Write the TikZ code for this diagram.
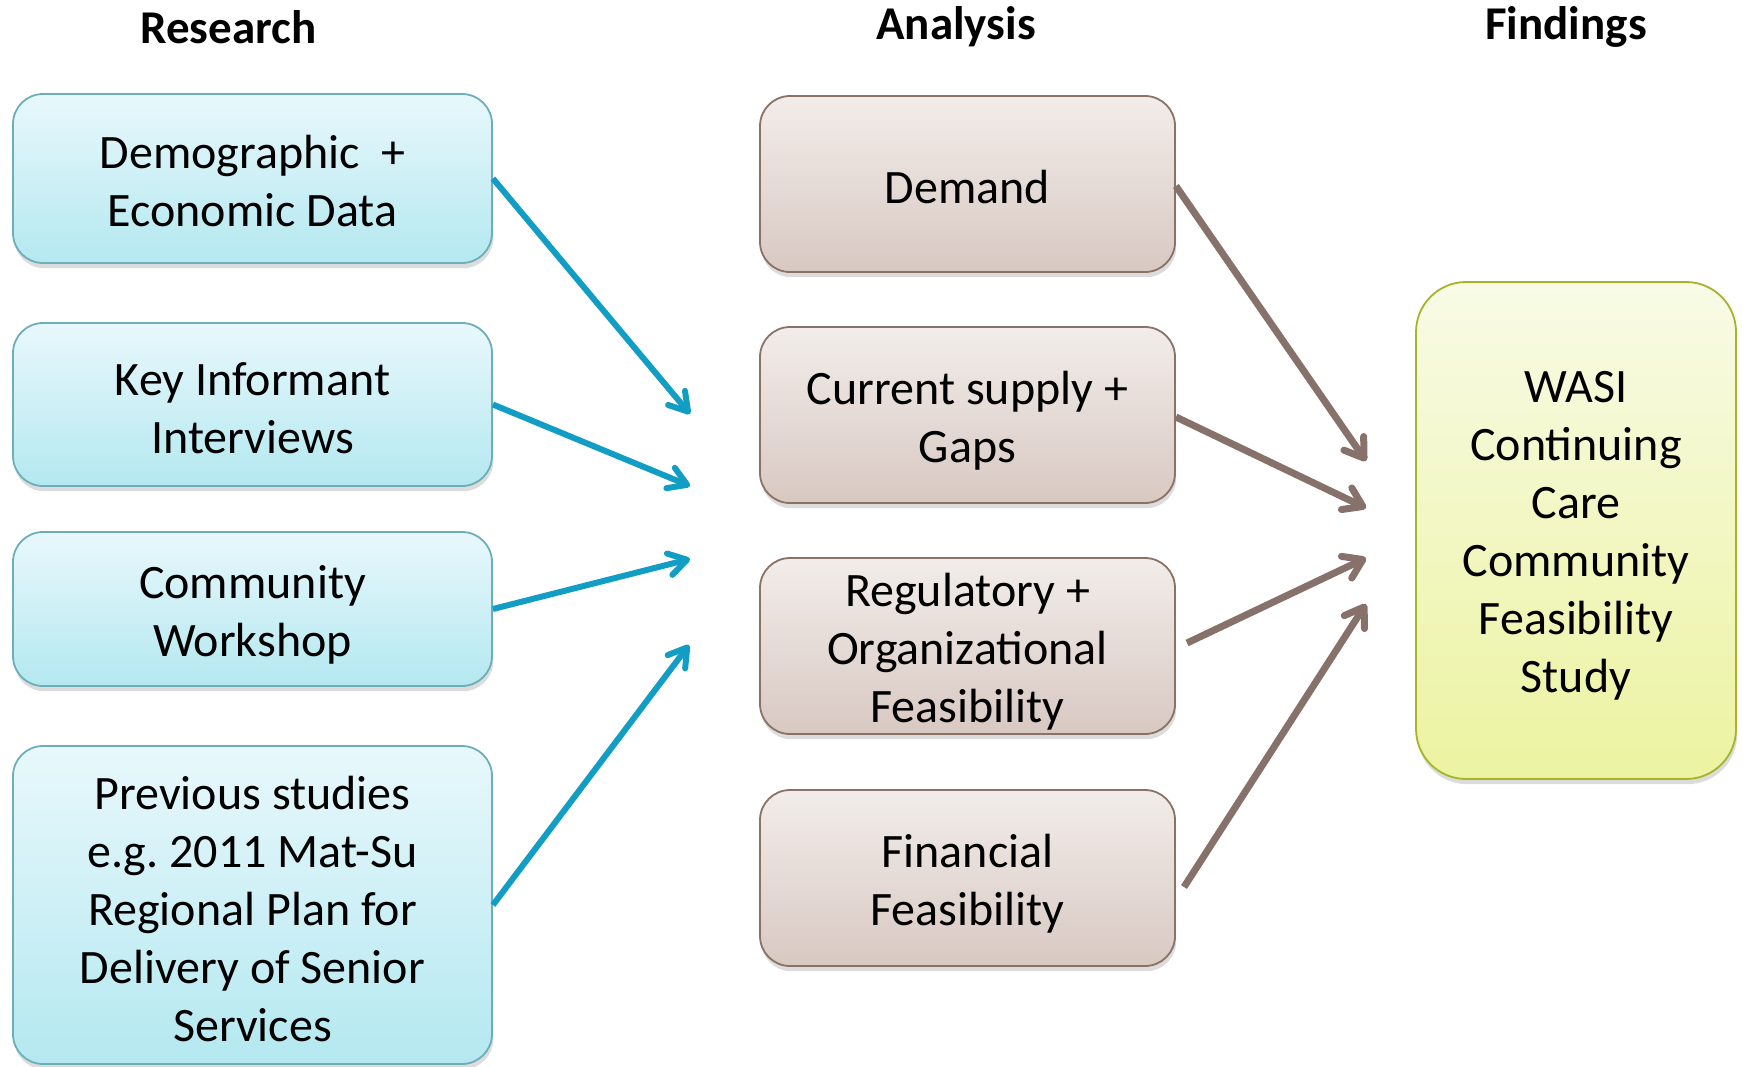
\documentclass[tikz,border=0pt]{standalone}
\usepackage{fontspec}
\setmainfont{Carlito}
\usetikzlibrary{arrows.meta,shadows}
\definecolor{bluetop}{HTML}{E8F8FC}
\definecolor{bluebot}{HTML}{B4E8F0}
\definecolor{blueborder}{HTML}{6DAFB9}
\definecolor{browntop}{HTML}{F2EDEA}
\definecolor{brownbot}{HTML}{D8C8C2}
\definecolor{brownborder}{HTML}{8A7266}
\definecolor{greentop}{HTML}{F8FBE6}
\definecolor{greenbot}{HTML}{ECF3A0}
\definecolor{greenborder}{HTML}{A6B42A}
\definecolor{bluearrow}{HTML}{129EC4}
\definecolor{brownarrow}{HTML}{86726A}
\tikzset{
  boxbase/.style={rounded corners=15pt, line width=0.9pt, inner sep=0pt,
    drop shadow={opacity=0.28, shadow xshift=0.6pt, shadow yshift=-2.6pt}},
  research/.style={boxbase, draw=blueborder, top color=bluetop, bottom color=bluebot,
    minimum width=239.5pt},
  analysis/.style={boxbase, draw=brownborder, top color=browntop, bottom color=brownbot,
    minimum width=207.5pt, minimum height=88pt},
  finding/.style={boxbase, rounded corners=25pt, draw=greenborder, top color=greentop,
    bottom color=greenbot, minimum width=160pt, minimum height=248.5pt},
  boxtext/.style={align=center, font=\fontsize{24}{29}\selectfont, inner sep=0pt},
  coltitle/.style={font=\fontsize{23.5}{28}\selectfont\bfseries, inner sep=0pt},
  bluearr/.style={draw=bluearrow, line width=3pt,
    -{Straight Barb[length=9pt, width=11pt, round]}},
  brownarr/.style={draw=brownarrow, line width=3.5pt,
    -{Straight Barb[length=9pt, width=12pt, round]}}
}
\begin{document}
\begin{tikzpicture}[x=0.5pt, y=-0.5pt]
\useasboundingbox (0,0) rectangle (1743,1066);
% titles
\node[coltitle] (t1) at (228.5,27) {Research};
\node[coltitle] (t2) at (956,27) {Analysis};
\node[coltitle] (t3) at (1566,27) {Findings};
% research boxes
\node[research, minimum height=84.5pt] (demo) at (252.5,178.5) {};
\node[research, minimum height=81.5pt] (key) at (252.5,404.5) {};
\node[research, minimum height=77pt] (comm) at (252.5,609) {};
\node[research, minimum height=159pt] (prev) at (252.5,905) {};
\node[boxtext] (demo-t) at ([yshift=-1.5pt]demo.center) {Demographic\ \ +\\Economic Data};
\node[boxtext] (key-t) at ([yshift=-2pt]key.center) {Key Informant\\Interviews};
\node[boxtext] (comm-t) at ([yshift=-3pt]comm.center) {Community\\Workshop};
\node[boxtext] (prev-t) at ([yshift=-2pt]prev.center) {Previous studies\\e.g.\ 2011 Mat-Su\\Regional Plan for\\Delivery of Senior\\Services};
% analysis boxes
\node[analysis] (dem) at (967.5,184) {};
\node[analysis] (cur) at (967.5,415) {};
\node[analysis] (reg) at (967.5,646) {};
\node[analysis] (fin) at (967.5,878) {};
\node[boxtext] (dem-t) at ([yshift=-1.5pt]dem.center) {Demand};
\node[boxtext] (cur-t) at ([yshift=-3pt]cur.center) {Current supply +\\Gaps};
\node[boxtext] (reg-t) at ([yshift=-3pt]reg.center) {Regulatory +\\Organizational\\Feasibility};
\node[boxtext] (fin-t) at ([yshift=-3pt]fin.center) {Financial\\Feasibility};
% findings box
\node[finding] (wasi) at (1576,530.5) {};
\node[boxtext] (wasi-t) at ([yshift=-2.5pt]wasi.center) {WASI\\Continuing\\Care\\Community\\Feasibility\\Study};
% arrow end points
\coordinate (b1) at (690,414);
\coordinate (b2) at (690,486);
\coordinate (b3) at (690,559);
\coordinate (b4) at (689,645);
\coordinate (r1) at (1366,461);
\coordinate (r2) at (1366,508);
\coordinate (r3) at (1366,558);
\coordinate (r4) at (1366,604);
\coordinate (s3) at (1187,643);
\coordinate (s4) at (1184,887);
% blue arrows
\draw[bluearr] (demo.east) -- (b1);
\draw[bluearr] (key.east) -- (b2);
\draw[bluearr] (comm.east) -- (b3);
\draw[bluearr] (prev.east) -- (b4);
% brown arrows
\draw[brownarr] ([yshift=-1pt]dem.east) -- (r1);
\draw[brownarr] ([yshift=-1pt]cur.east) -- (r2);
\draw[brownarr] (s3) -- (r3);
\draw[brownarr] (s4) -- (r4);
\end{tikzpicture}
\end{document}
